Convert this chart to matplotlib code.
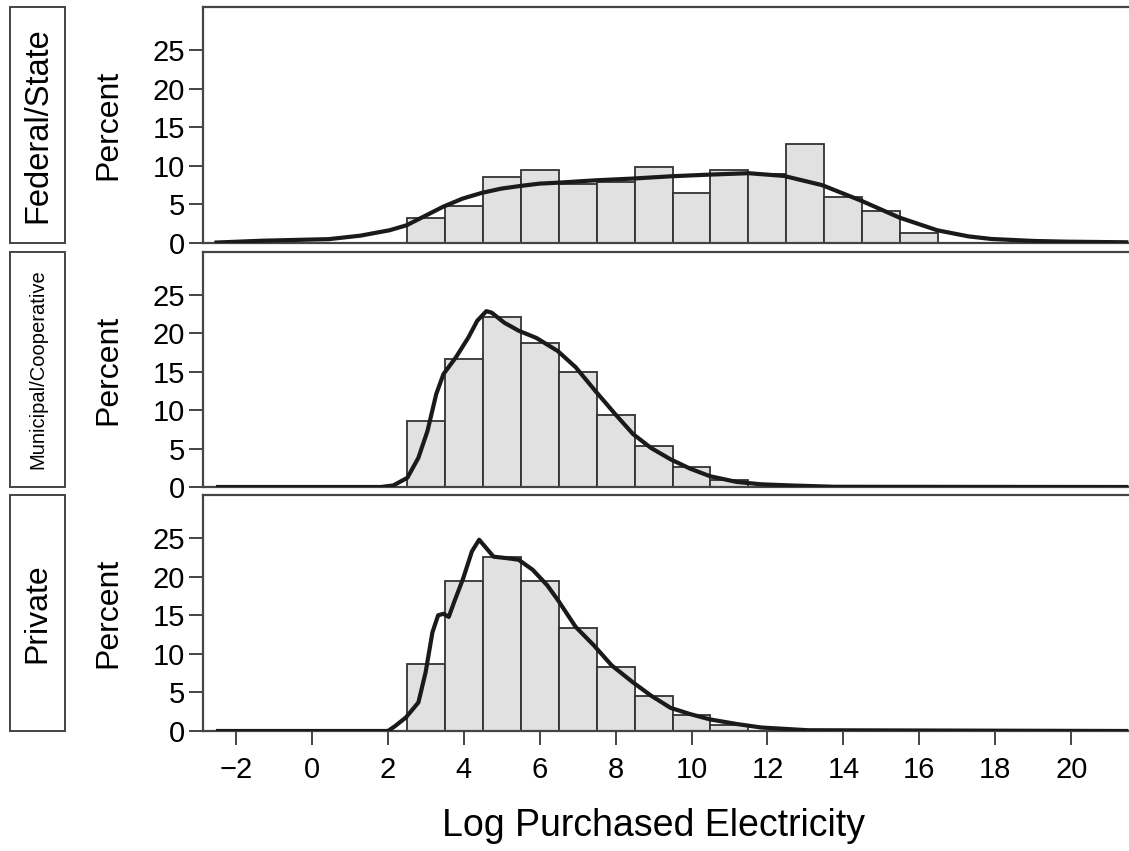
import matplotlib
matplotlib.use("Agg")
import matplotlib.pyplot as plt
from matplotlib.patches import Rectangle

plt.rcParams['font.family'] = ['Liberation Sans', 'DejaVu Sans']

# histogram bins (width 1, first left edge at 2.5)
bin_left = 2.5
fed_pct = [3.2, 4.8, 8.6, 9.5, 7.6, 7.9, 9.9, 6.5, 9.5, 8.9, 12.85, 5.95, 4.1, 1.3]
mun_pct = [8.6, 16.7, 22.1, 18.8, 15.0, 9.4, 5.4, 2.6, 0.9]
prv_pct = [8.7, 19.4, 22.6, 19.5, 13.4, 8.3, 4.5, 2.1, 0.8]

# kernel density curves
fed_kx = [-2.56, -1.28, 0.45, 1.28, 2.05, 2.5, 2.94, 3.46, 3.97, 4.48, 4.99, 5.5, 6.0, 6.52,
          7.48, 8.44, 9.46, 10.49, 11.5, 12.43, 13.44, 14.46, 15.47, 16.47, 17.29, 17.9,
          19.04, 19.93, 21.5]
fed_ky = [0.05, 0.3, 0.5, 0.95, 1.65, 2.3, 3.4, 4.7, 5.75, 6.5, 7.05, 7.4, 7.7, 7.83,
          8.13, 8.35, 8.65, 8.87, 9.05, 8.7, 7.5, 5.5, 3.3, 1.65, 0.86, 0.52,
          0.26, 0.17, 0.09]

mun_kx = [-2.52, 1.82, 2.15, 2.52, 2.81, 3.05, 3.28, 3.47, 3.8, 4.13, 4.36, 4.6, 4.74, 5.07,
          5.45, 5.92, 6.48, 6.95, 7.47, 7.99, 8.46, 8.93, 9.45, 9.96, 10.49, 11.2, 11.84,
          12.63, 13.76, 21.5]
mun_ky = [0.0, 0.0, 0.2, 1.2, 3.8, 7.3, 12.1, 14.7, 16.9, 19.5, 21.65, 22.9, 22.7, 21.4,
          20.35, 19.4, 17.7, 15.6, 12.5, 9.5, 6.9, 5.1, 3.6, 2.4, 1.4, 0.65, 0.35,
          0.2, 0.03, 0.0]

prv_kx = [-2.52, 2.01, 2.2, 2.48, 2.81, 3.0, 3.18, 3.33, 3.47, 3.61, 3.75, 3.99, 4.22, 4.41,
          4.6, 4.79, 5.16, 5.45, 5.82, 6.2, 6.48, 6.95, 7.43, 7.9, 8.46, 8.93, 9.45, 9.96,
          10.49, 11.2, 11.84, 13.07, 21.5]
prv_ky = [0.0, 0.0, 0.65, 1.75, 3.7, 7.6, 12.8, 15.0, 15.2, 14.8, 16.7, 19.8, 23.3, 24.8,
          23.7, 22.6, 22.4, 22.2, 20.9, 18.9, 17.0, 13.5, 11.1, 8.5, 6.3, 4.6, 3.0, 2.2,
          1.5, 0.9, 0.45, 0.1, 0.0]

panels = [
    ("Federal/State", 23.5, fed_pct, fed_kx, fed_ky),
    ("Municipal/Cooperative", 14.5, mun_pct, mun_kx, mun_ky),
    ("Private", 23, prv_pct, prv_kx, prv_ky),
]

W, H = 1129, 851
fig = plt.figure(figsize=(W / 100, H / 100), dpi=100)

# panel pixel extents (top, bottom)
rows = [(7, 243), (252, 487), (495, 731)]
left_px = 203
ax_w = W - left_px + 2
frame_col = '#444444'

xticks = list(range(-2, 21, 2))

for i, (name, fs, pct, kx, ky) in enumerate(panels):
    top, bot = rows[i]
    ax = fig.add_axes([left_px / W, 1 - bot / H, ax_w / W, (bot - top) / H])
    centers = [bin_left + 0.5 + k for k in range(len(pct))]
    ax.bar(centers, pct, width=1.0, color='#e1e1e1', edgecolor='#333333',
           linewidth=1.3, zorder=2)
    ax.plot(kx, ky, color='#1a1a1a', lw=3.0, zorder=3, solid_capstyle='butt')
    ax.set_xlim(-2.86, 21.57)
    ax.set_ylim(0, 30.6)
    ax.set_yticks([0, 5, 10, 15, 20, 25])
    ax.tick_params(axis='y', direction='out', length=10, width=1.4, color=frame_col,
                   labelsize=21, pad=3)
    ax.set_ylabel("Percent", fontsize=23, va='center')
    ax.yaxis.set_label_coords((108 - left_px) / ax_w, 0.5)
    for s in ax.spines.values():
        s.set_color(frame_col)
        s.set_linewidth(1.6)
    ax.spines['right'].set_visible(False)
    if i < 2:
        ax.set_xticks([])
    else:
        ax.set_xticks(xticks)
        ax.set_xticklabels([('\u22122' if t < 0 else str(t)) for t in xticks])
        ax.tick_params(axis='x', direction='out', length=10, width=1.4, color=frame_col,
                       labelsize=21, pad=8)
        ax.set_xlabel("Log Purchased Electricity", fontsize=27, va='center')
        ax.xaxis.set_label_coords((654 - left_px) / ax_w, (bot - 826) / (bot - top))

    # group label box on the far left
    bx0, bx1 = 10, 65
    fig.patches.append(Rectangle((bx0 / W, 1 - bot / H), (bx1 - bx0) / W, (bot - top) / H,
                                 transform=fig.transFigure, fill=False,
                                 edgecolor=frame_col, linewidth=1.4))
    fig.text((bx0 + bx1) / 2 / W, 1 - (top + bot) / 2 / H, name, rotation=90,
             ha='center', va='center', fontsize=fs)

fig.savefig("out.png", dpi=100)
